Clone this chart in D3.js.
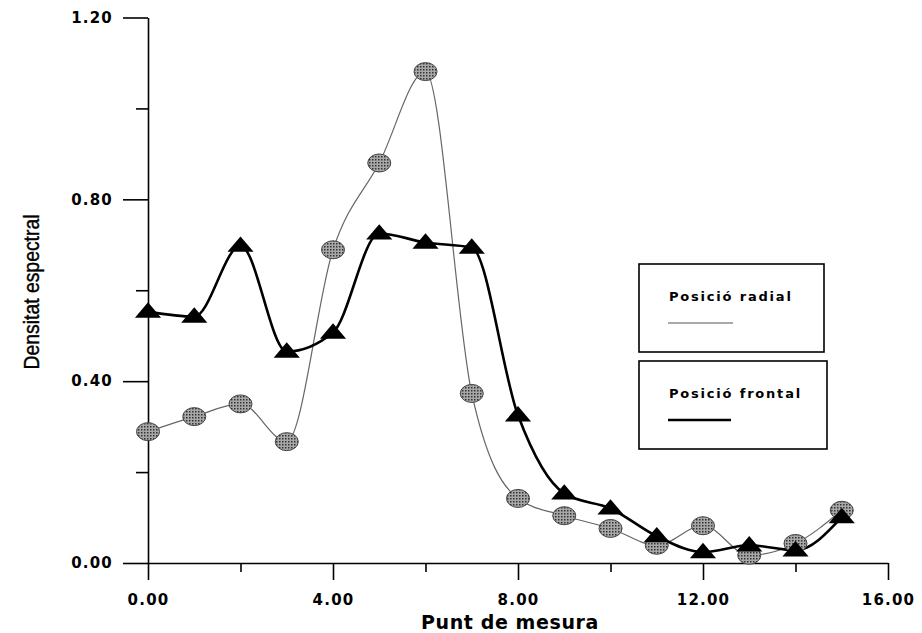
<!DOCTYPE html>
<html>
<head>
<meta charset="utf-8">
<script src="https://cdn.jsdelivr.net/npm/d3@7"></script>
<style>
  body { margin: 0; background: #fff; }
  svg { display: block; }
</style>
</head>
<body>
<script>
// punts de mesura i valors
var punts = [0, 1, 2, 3, 4, 5, 6, 7, 8, 9, 10, 11, 12, 13, 14, 15];
var radial = [0.289, 0.322, 0.350, 0.267, 0.689, 0.880, 1.081, 0.373, 0.142, 0.104, 0.076, 0.039, 0.082, 0.017, 0.043, 0.116];
var frontal = [0.553, 0.542, 0.698, 0.465, 0.507, 0.725, 0.705, 0.694, 0.325, 0.153, 0.120, 0.059, 0.024, 0.039, 0.028, 0.101];
var xTicks = [0, 4, 8, 12, 16];
var xMinor = [2, 6, 10, 14];
var yTicks = [0, 0.4, 0.8, 1.2];
var yMinor = [0.2, 0.6, 1.0];
var legendNames = ["Posició radial", "Posició frontal"];

var width = 922, height = 633;
var x0 = 148, x1 = 888, y0 = 563, y1 = 17.5;

var svg = d3.select("body")
  .append("svg")
  .attr("width", width)
  .attr("height", height);

var x = d3.scaleLinear().domain([0, 16]).range([x0, x1]);
var y = d3.scaleLinear().domain([0, 1.2]).range([y0, y1]);

var fmt = d3.format(".2f");
var wideFont = "'DejaVu Sans', Verdana, sans-serif";

// eixos
svg.append("g")
  .attr("transform", "translate(0," + y0 + ")")
  .call(d3.axisBottom(x).tickValues(xMinor).tickSize(9).tickFormat(""))
  .call(g => g.select(".domain").remove());

svg.append("g")
  .attr("transform", "translate(0," + y0 + ")")
  .call(d3.axisBottom(x).tickValues(xTicks).tickSize(17).tickSizeOuter(0).tickPadding(14).tickFormat(fmt))
  .call(g => g.selectAll("text")
    .attr("font-family", wideFont)
    .attr("font-weight", "bold")
    .attr("font-size", 15)
    .attr("letter-spacing", 1.2)
    .attr("fill", "#000"));

svg.append("g")
  .attr("transform", "translate(" + x0 + ",0)")
  .call(d3.axisLeft(y).tickValues(yMinor).tickSize(12).tickFormat(""))
  .call(g => g.select(".domain").remove());

svg.append("g")
  .attr("transform", "translate(" + x0 + ",0)")
  .call(d3.axisLeft(y).tickValues(yTicks).tickSize(25).tickSizeOuter(0).tickPadding(10).tickFormat(fmt))
  .call(g => g.selectAll("text")
    .attr("font-family", wideFont)
    .attr("font-weight", "bold")
    .attr("font-size", 15)
    .attr("letter-spacing", 1.2)
    .attr("fill", "#000"));

svg.selectAll(".domain, .tick line")
  .attr("stroke", "#000")
  .attr("stroke-width", 1.6);

// titols
svg.append("text")
  .attr("x", 510)
  .attr("y", 629)
  .attr("text-anchor", "middle")
  .attr("font-family", wideFont)
  .attr("font-weight", "bold")
  .attr("font-size", 19)
  .attr("letter-spacing", 0.6)
  .text("Punt de mesura");

svg.append("text")
  .attr("transform", "translate(39,292) rotate(-90) scale(0.88,1)")
  .attr("text-anchor", "middle")
  .attr("font-family", "'Liberation Sans', Arial, sans-serif")
  .attr("font-size", 22)
  .attr("stroke", "#000")
  .attr("stroke-width", 0.4)
  .text("Densitat espectral");

// trama dels cercles
var defs = svg.append("defs");
var pat = defs.append("pattern")
  .attr("id", "trama")
  .attr("width", 3)
  .attr("height", 3)
  .attr("patternUnits", "userSpaceOnUse");
pat.append("rect").attr("width", 3).attr("height", 3).attr("fill", "#a8a8a8");
pat.append("rect").attr("width", 1.5).attr("height", 1.5).attr("fill", "#333");

var line = d3.line()
  .x(function(d, i){ return x(punts[i]); })
  .y(function(d){ return y(d); })
  .curve(d3.curveMonotoneX);

svg.append("path")
  .datum(radial)
  .attr("d", line)
  .attr("fill", "none")
  .attr("stroke", "#666")
  .attr("stroke-width", 1.2);

svg.append("path")
  .datum(frontal)
  .attr("d", line)
  .attr("fill", "none")
  .attr("stroke", "#000")
  .attr("stroke-width", 2.6);

svg.selectAll(".cercle")
  .data(radial)
  .enter()
  .append("ellipse")
  .attr("class", "cercle")
  .attr("cx", function(d, i){ return x(punts[i]); })
  .attr("cy", function(d){ return y(d); })
  .attr("rx", 11.5)
  .attr("ry", 9)
  .attr("fill", "url(#trama)")
  .attr("stroke", "#444")
  .attr("stroke-width", 1);

var tri = d3.symbol().type(d3.symbolTriangle).size(190);

svg.selectAll(".triangle")
  .data(frontal)
  .enter()
  .append("path")
  .attr("class", "triangle")
  .attr("d", tri)
  .attr("transform", function(d, i){
    return "translate(" + x(punts[i]) + "," + (y(d) + 1) + ") scale(1.25,0.85)"; })
  .attr("fill", "#000");

// llegenda
var boxes = [
  { x: 639, y: 264, w: 185, h: 88 },
  { x: 639, y: 361, w: 188, h: 88 }
];

var leg = svg.selectAll(".leg")
  .data(legendNames)
  .enter()
  .append("g")
  .attr("class", "leg")
  .attr("transform", function(d, i){ return "translate(" + boxes[i].x + "," + boxes[i].y + ")"; });

leg.append("rect")
  .attr("width", function(d, i){ return boxes[i].w; })
  .attr("height", function(d, i){ return boxes[i].h; })
  .attr("fill", "none")
  .attr("stroke", "#000")
  .attr("stroke-width", 1.6);

leg.append("text")
  .attr("x", 30)
  .attr("y", 37)
  .attr("font-family", wideFont)
  .attr("font-weight", "bold")
  .attr("font-size", 13)
  .attr("letter-spacing", 1.8)
  .text(function(d){ return d; });

leg.append("line")
  .attr("x1", 29)
  .attr("x2", function(d, i){ return i == 0 ? 94 : 92; })
  .attr("y1", 59)
  .attr("y2", 59)
  .attr("stroke", function(d, i){ return i == 0 ? "#555" : "#000"; })
  .attr("stroke-width", function(d, i){ return i == 0 ? 1.2 : 2.4; });
</script>
</body>
</html>
